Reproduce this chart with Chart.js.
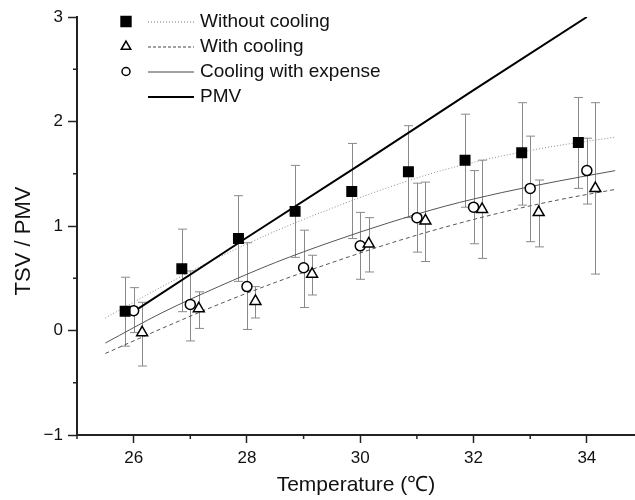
<!DOCTYPE html>
<html>
<head>
<meta charset="utf-8">
<script src="https://cdn.jsdelivr.net/npm/chart.js@4"></script>
<style>
  html, body { margin: 0; padding: 0; background: #fff; }
  canvas { display: block; }
</style>
</head>
<body>
<canvas id="chartTsv" width="635" height="500"></canvas>
<script>
// temperaturas (eje x) y desplazamiento de cada serie
const temps = [26, 27, 28, 29, 30, 31, 32, 33, 34];
const shift = 0.15;

// TSV medio y barras de error
const withoutCooling = [0.185, 0.59, 0.88, 1.14, 1.33, 1.52, 1.63, 1.70, 1.80];
const withoutHi = [0.51, 0.97, 1.29, 1.58, 1.79, 1.96, 2.07, 2.18, 2.23];
const withoutLo = [-0.15, 0.18, 0.47, 0.70, 0.88, 1.08, 1.18, 1.20, 1.36];

const withCooling = [-0.02, 0.21, 0.28, 0.54, 0.83, 1.05, 1.16, 1.13, 1.36];
const withHi = [0.27, 0.37, 0.42, 0.72, 1.08, 1.42, 1.63, 1.44, 2.18];
const withLo = [-0.34, 0.02, 0.12, 0.34, 0.56, 0.66, 0.69, 0.80, 0.54];

const expense = [0.19, 0.25, 0.42, 0.60, 0.81, 1.08, 1.18, 1.36, 1.53];
const expenseHi = [0.41, 0.57, 0.84, 0.96, 1.13, 1.41, 1.53, 1.86, 1.84];
const expenseLo = [-0.02, -0.10, 0.01, 0.22, 0.49, 0.75, 0.83, 0.85, 1.21];

// curvas de ajuste
const fitX = [25.5, 26.5, 27.5, 28.5, 29.5, 30.5, 31.5, 32.5, 33.5, 34.5];
const fitWithout = [0.12, 0.42, 0.70, 0.95, 1.17, 1.37, 1.54, 1.67, 1.77, 1.85];
const fitWith = [-0.22, 0.02, 0.25, 0.46, 0.65, 0.83, 0.99, 1.13, 1.25, 1.35];
const fitExpense = [-0.12, 0.17, 0.42, 0.65, 0.85, 1.03, 1.19, 1.32, 1.43, 1.53];

const pmvX = [26, 28, 30, 32, 34];
const pmv = [0.18, 0.89, 1.59, 2.30, 3.0];

// ticks
const xTicks = [26, 28, 30, 32, 34];
const xMinor = [25, 27, 29, 31, 33];
const yTicks = [-1, 0, 1, 2, 3];
const yMinor = [-0.5, 0.5, 1.5, 2.5];

const FONT = "'Liberation Sans', Arial, sans-serif";

const pts = (xs, ys, dx) => xs.map((x, i) => ({ x: x + (dx || 0), y: ys[i] }));

const series = [
    { label: 'Without cooling', vals: withoutCooling, hi: withoutHi, lo: withoutLo, dx: -shift },
    { label: 'With cooling', vals: withCooling, hi: withHi, lo: withLo, dx: shift },
    { label: 'Cooling with expense', vals: expense, hi: expenseHi, lo: expenseLo, dx: 0 }
];

// barras de error con las escalas del grafico
const errorBars = {
    id: 'errorBars',
    beforeDatasetsDraw(chart) {
        const { ctx, scales: { x, y } } = chart;
        ctx.save();
        ctx.strokeStyle = '#8a8a8a';
        ctx.lineWidth = 1;
        series.forEach(s => {
            temps.forEach((t, i) => {
                const px = Math.round(x.getPixelForValue(t + s.dx)) + 0.5;
                const top = y.getPixelForValue(s.hi[i]);
                const bot = y.getPixelForValue(s.lo[i]);
                ctx.beginPath();
                ctx.moveTo(px, top); ctx.lineTo(px, bot);
                ctx.moveTo(px - 4.5, top); ctx.lineTo(px + 4.5, top);
                ctx.moveTo(px - 4.5, bot); ctx.lineTo(px + 4.5, bot);
                ctx.stroke();
            });
        });
        ctx.restore();
    }
};

// ticks menores, titulo vertical y leyenda
const extras = {
    id: 'extras',
    afterDraw(chart) {
        const { ctx, scales: { x, y }, chartArea } = chart;
        ctx.save();
        ctx.strokeStyle = '#222';
        ctx.lineWidth = 1.5;
        ctx.beginPath();
        xMinor.forEach(v => {
            const px = x.getPixelForValue(v);
            ctx.moveTo(px, chartArea.bottom); ctx.lineTo(px, chartArea.bottom + 4);
        });
        yMinor.forEach(v => {
            const py = y.getPixelForValue(v);
            ctx.moveTo(chartArea.left, py); ctx.lineTo(chartArea.left - 4, py);
        });
        ctx.stroke();

        // titulo eje y
        ctx.save();
        ctx.translate(24, 241);
        ctx.rotate(-Math.PI / 2);
        ctx.fillStyle = '#111';
        ctx.font = '22px ' + FONT;
        ctx.textAlign = 'center';
        ctx.textBaseline = 'middle';
        ctx.fillText('TSV / PMV', 0, 0);
        ctx.restore();

        // leyenda
        const rows = [
            { text: 'Without cooling', marker: 'rect', dash: [1, 2], color: '#777', width: 1 },
            { text: 'With cooling', marker: 'triangle', dash: [3, 2], color: '#444', width: 1 },
            { text: 'Cooling with expense', marker: 'circle', dash: [], color: '#444', width: 1 },
            { text: 'PMV', marker: null, dash: [], color: '#000', width: 2 }
        ];
        ctx.font = '19px ' + FONT;
        ctx.textBaseline = 'middle';
        ctx.textAlign = 'left';
        rows.forEach((r, i) => {
            const cy = 21.5 + i * 25;
            if (r.marker) {
                ctx.save();
                ctx.lineWidth = 1.5;
                ctx.strokeStyle = '#000';
                ctx.fillStyle = r.marker === 'rect' ? '#000' : '#fff';
                Chart.helpers.drawPoint(ctx, { pointStyle: r.marker, radius: r.marker === 'rect' ? 7 : (r.marker === 'circle' ? 4 : 5.5), rotation: 0, borderWidth: 1.5 }, 126, cy);
                ctx.restore();
            }
            ctx.save();
            ctx.strokeStyle = r.color;
            ctx.lineWidth = r.width;
            ctx.setLineDash(r.dash);
            ctx.beginPath();
            ctx.moveTo(148, cy + 0.5); ctx.lineTo(194, cy + 0.5);
            ctx.stroke();
            ctx.restore();
            ctx.fillStyle = '#111';
            ctx.fillText(r.text, 200, cy);
        });
        ctx.restore();
    }
};

const markerBase = { showLine: false, borderColor: '#000', borderWidth: 1.5, order: 0 };
const fitBase = { showLine: true, pointRadius: 0, borderWidth: 1, cubicInterpolationMode: 'monotone', order: 2 };

const ctx = document.getElementById('chartTsv').getContext('2d');
new Chart(ctx, {
    type: 'scatter',
    data: {
        datasets: [
            Object.assign({}, markerBase, { label: series[0].label, data: pts(temps, withoutCooling, -shift), pointStyle: 'rect', pointRadius: 6.7, backgroundColor: '#000' }),
            Object.assign({}, markerBase, { label: series[1].label, data: pts(temps, withCooling, shift), pointStyle: 'triangle', pointRadius: 6.3, backgroundColor: '#fff' }),
            Object.assign({}, markerBase, { label: series[2].label, data: pts(temps, expense, 0), pointStyle: 'circle', pointRadius: 5, backgroundColor: '#fff' }),
            Object.assign({}, fitBase, { label: 'fit without', data: pts(fitX, fitWithout), borderColor: '#8a8a8a', borderDash: [1, 2] }),
            Object.assign({}, fitBase, { label: 'fit with', data: pts(fitX, fitWith), borderColor: '#555', borderDash: [4, 3] }),
            Object.assign({}, fitBase, { label: 'fit expense', data: pts(fitX, fitExpense), borderColor: '#555' }),
            Object.assign({}, fitBase, { label: 'PMV', data: pts(pmvX, pmv), borderColor: '#000', borderWidth: 2, cubicInterpolationMode: 'default', order: 1 })
        ]
    },
    options: {
        responsive: false,
        animation: false,
        layout: { autoPadding: false, padding: { top: 17, right: 0, left: 0, bottom: 0 } },
        plugins: { legend: { display: false }, tooltip: { enabled: false } },
        scales: {
            x: {
                type: 'linear',
                min: 25,
                max: 34.85,
                afterBuildTicks: s => { s.ticks = xTicks.map(v => ({ value: v })); },
                afterFit: s => { s.height = 65; s.paddingRight = 0; s.paddingLeft = 0; },
                border: { color: '#222', width: 2 },
                grid: { drawOnChartArea: false, tickLength: 8, tickColor: '#222', tickWidth: 1.5 },
                ticks: { color: '#111', font: { family: FONT, size: 17 }, padding: 5, maxRotation: 0 },
                title: { display: true, text: 'Temperature (\u2103)', color: '#111', font: { family: FONT, size: 21 }, padding: { top: 0, bottom: 2 } }
            },
            y: {
                type: 'linear',
                min: -1,
                max: 3,
                afterBuildTicks: s => { s.ticks = yTicks.map(v => ({ value: v })); },
                afterFit: s => { s.width = 77; },
                border: { color: '#222', width: 2 },
                grid: { drawOnChartArea: false, tickLength: 9, tickColor: '#222', tickWidth: 1.5 },
                ticks: {
                    color: '#111',
                    font: { family: FONT, size: 17 },
                    padding: 5,
                    callback: v => v < 0 ? '\u2212' + Math.abs(v) : String(v)
                }
            }
        }
    },
    plugins: [errorBars, extras]
});
</script>
</body>
</html>
